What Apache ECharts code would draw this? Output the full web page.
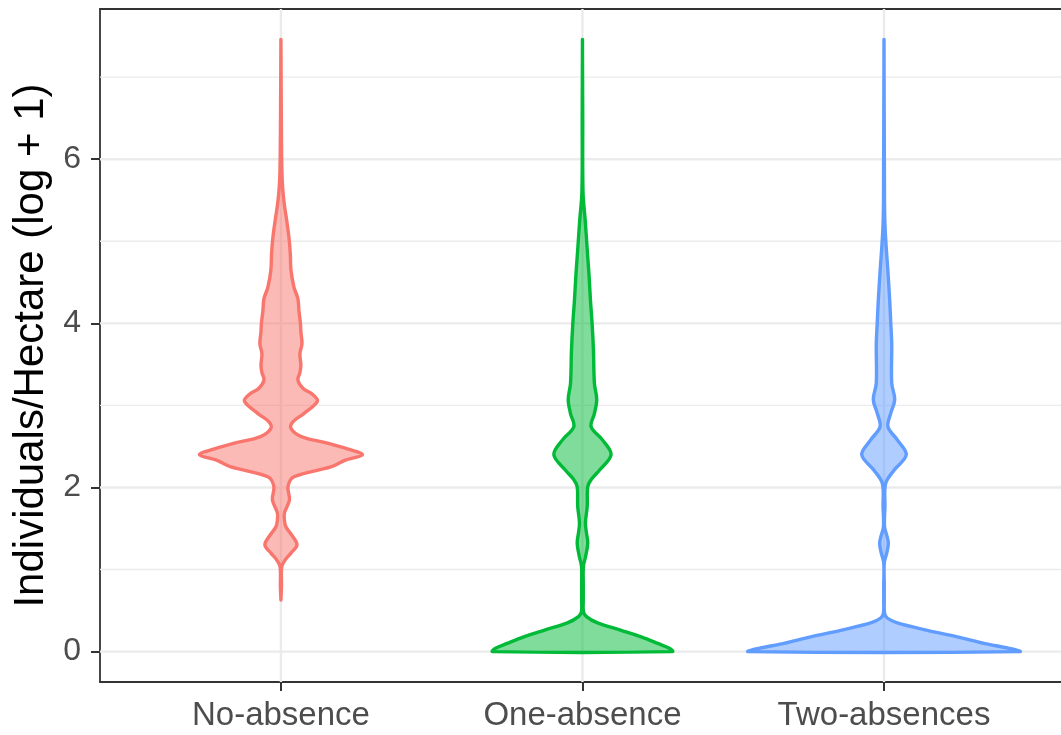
<!DOCTYPE html>
<html>
<head>
<meta charset="utf-8">
<title>Individuals per hectare by absence group</title>
<script src="https://cdn.jsdelivr.net/npm/echarts@6/dist/echarts.min.js"></script>
<style>
  html, body { margin: 0; padding: 0; background: #ffffff; }
  #chart { width: 1061px; height: 735px; }
</style>
</head>
<body>
<div id="chart"></div>
<script>
// Groups along the x axis
const categories = ['No-absence', 'One-absence', 'Two-absences'];
const groupColors = ['#F8766D', '#00BA38', '#619CFF'];

// Kernel density outlines: value (log + 1) and scaled density per group
const noAbsenceY = [0.63, 0.80, 1.04, 1.13, 1.20, 1.30, 1.40, 1.52, 1.60, 1.69, 1.85, 2.01, 2.13, 2.25, 2.33, 2.40, 2.47, 2.54, 2.62, 2.72, 2.80, 2.90, 3.05, 3.13, 3.21, 3.31, 3.40, 3.49, 3.63, 3.75, 3.90, 4.00, 4.15, 4.30, 4.44, 4.65, 4.85, 5.05, 5.26, 5.46, 5.66, 5.86, 6.27, 6.80, 7.46];
const noAbsenceDensity = [0.000, 0.004, 0.007, 0.037, 0.074, 0.118, 0.088, 0.037, 0.026, 0.026, 0.063, 0.052, 0.096, 0.368, 0.470, 0.601, 0.490, 0.343, 0.150, 0.074, 0.088, 0.169, 0.269, 0.236, 0.162, 0.125, 0.140, 0.147, 0.140, 0.155, 0.147, 0.144, 0.133, 0.125, 0.096, 0.074, 0.069, 0.059, 0.042, 0.024, 0.0125, 0.007, 0.004, 0.002, 0.000];

const oneAbsenceY = [0.00, 0.04, 0.10, 0.18, 0.26, 0.35, 0.43, 0.49, 0.63, 0.80, 1.04, 1.15, 1.32, 1.45, 1.57, 1.77, 2.01, 2.10, 2.21, 2.40, 2.58, 2.74, 2.90, 3.07, 3.27, 3.67, 4.00, 4.28, 4.60, 4.85, 5.26, 5.60, 6.50, 7.46];
const oneAbsenceDensity = [0.663, 0.641, 0.555, 0.433, 0.285, 0.111, 0.027, 0.007, 0.006, 0.006, 0.007, 0.022, 0.039, 0.029, 0.022, 0.035, 0.039, 0.066, 0.125, 0.211, 0.147, 0.064, 0.088, 0.105, 0.088, 0.081, 0.071, 0.059, 0.048, 0.037, 0.020, 0.004, 0.002, 0.000];

const twoAbsencesY = [0.00, 0.04, 0.10, 0.18, 0.26, 0.35, 0.41, 0.47, 0.63, 0.80, 1.08, 1.20, 1.32, 1.42, 1.52, 1.77, 2.05, 2.21, 2.40, 2.58, 2.74, 2.90, 3.07, 3.27, 3.75, 4.00, 4.28, 4.60, 5.20, 5.80, 7.46];
const twoAbsencesDensity = [1.000, 0.921, 0.737, 0.540, 0.319, 0.098, 0.024, 0.004, 0.002, 0.002, 0.002, 0.020, 0.032, 0.020, 0.004, 0.007, 0.0125, 0.074, 0.164, 0.098, 0.029, 0.049, 0.079, 0.057, 0.057, 0.050, 0.042, 0.030, 0.007, 0.003, 0.000];

const violinY = [noAbsenceY, oneAbsenceY, twoAbsencesY];
const violinDensity = [noAbsenceDensity, oneAbsenceDensity, twoAbsencesDensity];

// Axis breaks
const xTicks = [1, 2, 3];
const yMajorTicks = [0, 2, 4, 6];
const yMinorTicks = [1, 3, 5, 7];

const HALF_WIDTH = 0.45; // half of the 0.9 violin width, in x-axis units
const FONT = 'Liberation Sans, Arial, sans-serif';
const PANEL_LINE = { color: '#333333', width: 1.8 };

const chart = echarts.init(document.getElementById('chart'), null, { renderer: 'canvas' });

// Panel grid lines drawn through the axis scales
function renderGridLine(params, api) {
  const kind = api.value(0);
  const v = api.value(1);
  const cs = params.coordSys;
  let x1, y1, x2, y2;
  if (kind === 2) {
    const p = api.coord([v, 0]);
    x1 = x2 = p[0]; y1 = cs.y; y2 = cs.y + cs.height;
  } else {
    const p = api.coord([1, v]);
    y1 = y2 = p[1]; x1 = cs.x; x2 = cs.x + cs.width;
  }
  return {
    type: 'line',
    shape: { x1: x1, y1: y1, x2: x2, y2: y2 },
    style: { stroke: '#EBEBEB', lineWidth: kind === 1 ? 1.4 : 2.4 },
    silent: true
  };
}

const gridLineData = []
  .concat(yMajorTicks.map(v => [0, v]))
  .concat(yMinorTicks.map(v => [1, v]))
  .concat(xTicks.map(v => [2, v]));

// Mirrored density outline for one group
function renderViolin(params, api) {
  const g = api.value(0);
  const cx = xTicks[g];
  const ys = violinY[g];
  const ds = violinDensity[g];
  const right = [];
  const left = [];
  for (let i = 0; i < ys.length; i++) {
    right.push(api.coord([cx + ds[i] * HALF_WIDTH, ys[i]]));
    left.push(api.coord([cx - ds[i] * HALF_WIDTH, ys[i]]));
  }
  const points = right.concat(left.reverse());
  const color = groupColors[g];
  return {
    type: 'polygon',
    shape: { points: points, smooth: 0.35 },
    style: {
      fill: echarts.color.modifyAlpha(color, 0.5),
      stroke: color,
      lineWidth: 3.4,
      lineJoin: 'round',
      lineCap: 'round'
    }
  };
}

const option = {
  backgroundColor: '#ffffff',
  animation: false,
  grid: {
    left: 100,
    top: 9,
    right: 0,
    height: 673,
    containLabel: false
  },
  xAxis: [
    {
      type: 'value',
      position: 'bottom',
      min: 0.4,
      max: 3.587,
      axisLine: { show: true, onZero: false, lineStyle: PANEL_LINE },
      splitLine: { show: false },
      axisTick: {
        show: true,
        customValues: xTicks,
        length: 9,
        lineStyle: { color: '#333333', width: 2 }
      },
      axisLabel: {
        customValues: xTicks,
        formatter: v => categories[Math.round(v) - 1],
        fontFamily: FONT,
        fontSize: 33,
        color: '#4D4D4D',
        margin: 17
      }
    },
    {
      // top edge of the panel
      type: 'value',
      position: 'top',
      min: 0.4,
      max: 3.587,
      axisLine: { show: true, onZero: false, lineStyle: PANEL_LINE },
      axisTick: { show: false },
      axisLabel: { show: false },
      splitLine: { show: false }
    }
  ],
  yAxis: {
    type: 'value',
    min: -0.37,
    max: 7.83,
    name: 'Individuals/Hectare (log + 1)',
    nameLocation: 'middle',
    nameRotate: 90,
    nameGap: 48,
    nameTextStyle: {
      fontFamily: FONT,
      fontSize: 42,
      color: '#000000'
    },
    axisLine: { show: true, onZero: false, lineStyle: PANEL_LINE },
    splitLine: { show: false },
    axisTick: {
      show: true,
      customValues: yMajorTicks,
      length: 9,
      lineStyle: { color: '#333333', width: 2 }
    },
    axisLabel: {
      customValues: yMajorTicks,
      formatter: v => String(v),
      fontFamily: FONT,
      fontSize: 32,
      color: '#4D4D4D',
      margin: 19
    }
  },
  series: [
    {
      type: 'custom',
      name: 'grid',
      z: 1,
      silent: true,
      clip: true,
      renderItem: renderGridLine,
      data: gridLineData
    },
    {
      type: 'custom',
      name: 'violins',
      z: 2,
      clip: true,
      renderItem: renderViolin,
      data: categories.map((c, i) => [i])
    }
  ]
};

chart.setOption(option);
</script>
</body>
</html>
